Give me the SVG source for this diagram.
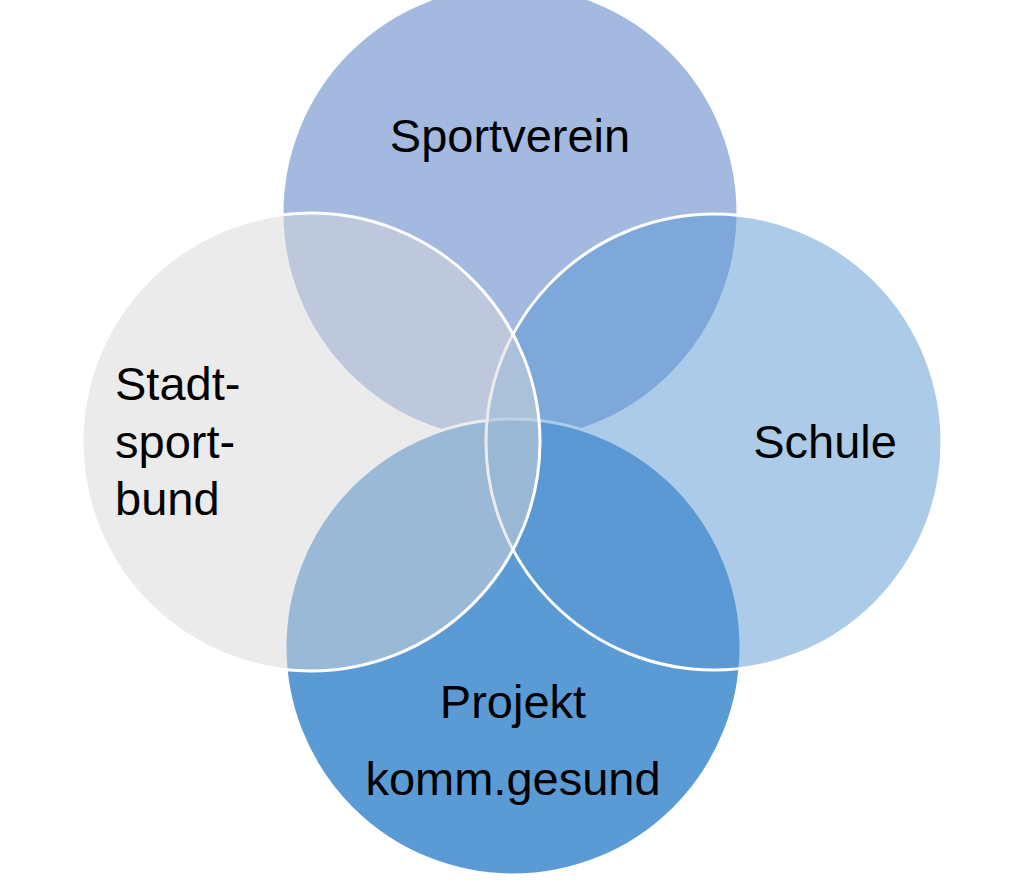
<svg xmlns="http://www.w3.org/2000/svg" width="1024" height="885" viewBox="0 0 1024 885">
<style>
.c{stroke:#fff;stroke-width:3}
text{font-family:"Liberation Sans",Arial,sans-serif;font-size:47px;fill:#000}
</style>
<rect width="1024" height="885" fill="#fff"/>
<g id="sportverein"><circle class="c" cx="510" cy="213" r="228" fill="#a3b9e0"/></g>
<g id="projekt"><circle class="c" cx="513" cy="647" r="228" fill="#5b9bd5"/></g>
<g id="schule"><circle class="c" cx="714" cy="442" r="228" fill="#5a97d3" fill-opacity="0.5"/></g>
<g id="stadtsportbund"><circle class="c" cx="311" cy="442" r="229" fill="#d7d7d7" fill-opacity="0.5"/></g>
<g id="connectors"></g>
<g id="labels">
<text x="510" y="152" text-anchor="middle">Sportverein</text>
<text x="115" y="400">Stadt-</text>
<text x="115" y="458">sport-</text>
<text x="115" y="515">bund</text>
<text x="825" y="458" text-anchor="middle">Schule</text>
<text x="513" y="718" text-anchor="middle">Projekt</text>
<text x="513" y="795" text-anchor="middle">komm.gesund</text>
</g>
</svg>
